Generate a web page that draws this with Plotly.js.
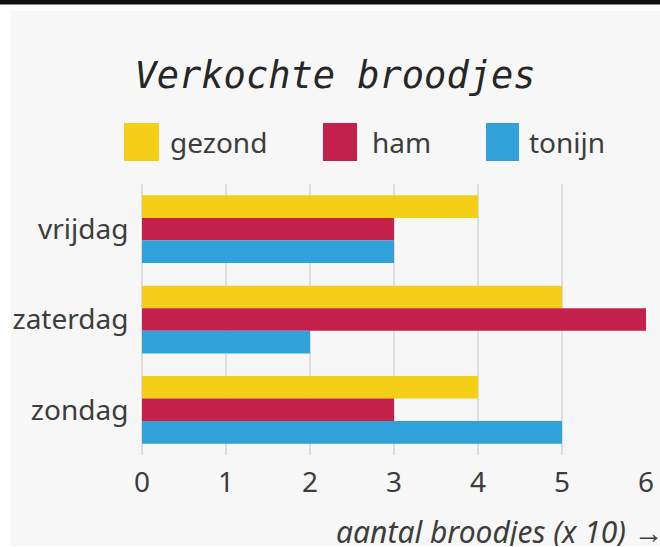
<!DOCTYPE html>
<html>
<head>
<meta charset="utf-8">
<script src="https://cdn.plot.ly/plotly-3.0.1.min.js"></script>
<style>
  html, body { margin: 0; padding: 0; background: #ffffff; width: 660px; height: 547px; overflow: hidden; }
  #topbar { position: absolute; left: 0; top: 0; width: 660px; height: 4px; background: #111; border-bottom: 1px solid #888; }
  #chart { position: absolute; left: 11px; top: 11px; width: 649px; height: 535px; }
</style>
</head>
<body>
<div id="topbar"></div>
<div id="chart"></div>
<script>
// ---- data ----
const days = ['vrijdag', 'zaterdag', 'zondag'];
const seriesNames = ['gezond', 'ham', 'tonijn'];
const gezond = [4, 5, 4];
const ham = [3, 6, 3];
const tonijn = [3, 2, 5];
const xTicks = [0, 1, 2, 3, 4, 5, 6];
const chartTitle = 'Verkochte broodjes';
const xTitle = 'aantal broodjes (x 10) →';

// ---- style ----
const colors = ['#f5cf17', '#c4204c', '#31a2d9'];
const textColor = '#3d3d3d';
const labelFont = 'Noto Sans, sans-serif';
const W = 649, H = 535;
const M = { l: 131, r: 14, t: 173, b: 91 };
const pw = W - M.l - M.r, ph = H - M.t - M.b;
const px2x = p => (p - M.l) / pw;
const py2y = p => 1 - (p - M.t) / ph;

const values = [gezond, ham, tonijn];
const traces = seriesNames.map((name, i) => ({
  type: 'bar',
  orientation: 'h',
  name: name,
  y: days,
  x: values[i],
  marker: { color: colors[i], line: { width: 0 } },
  hoverinfo: 'x+name'
}));

// manual legend (large square swatches)
const legendSquares = [[113, 148], [312, 346], [475, 508]];
const legendTextX = [157, 359, 516];
const shapes = [];
const annotations = [];
seriesNames.forEach((name, i) => {
  shapes.push({
    type: 'rect', xref: 'paper', yref: 'paper',
    x0: px2x(legendSquares[i][0]), x1: px2x(legendSquares[i][1]),
    y0: py2y(150), y1: py2y(112),
    fillcolor: colors[i], line: { width: 0 }
  });
  annotations.push({
    xref: 'paper', yref: 'paper',
    x: px2x(legendTextX[i]), y: py2y(131),
    xanchor: 'left', yanchor: 'middle', showarrow: false,
    text: name, font: { family: labelFont, size: 28, color: textColor }
  });
});
annotations.push({
  xref: 'paper', yref: 'paper',
  x: px2x(323), y: py2y(520),
  xanchor: 'left', yanchor: 'middle', showarrow: false,
  text: '<i>' + xTitle + '</i>',
  font: { family: labelFont, size: 30, color: textColor }
});

const layout = {
  width: W, height: H,
  paper_bgcolor: '#f7f7f7',
  plot_bgcolor: '#f7f7f7',
  margin: M,
  showlegend: false,
  barmode: 'group',
  bargap: 0.25,
  bargroupgap: 0,
  title: {
    text: '<i>' + chartTitle + '</i>',
    font: { family: 'DejaVu Sans Mono, monospace', size: 37, color: '#262626' },
    xref: 'container', x: 324 / W, xanchor: 'center',
    yref: 'container', y: 1 - 64 / H, yanchor: 'middle'
  },
  xaxis: {
    range: [0, 6],
    tickvals: xTicks,
    ticktext: xTicks.map(String),
    showgrid: true, gridcolor: '#dddddd', gridwidth: 2,
    zeroline: true, zerolinecolor: '#dddddd', zerolinewidth: 2,
    showline: false,
    ticks: 'outside', ticklen: 2, tickcolor: 'rgba(0,0,0,0)',
    tickfont: { family: labelFont, size: 28, color: textColor },
    fixedrange: true
  },
  yaxis: {
    autorange: 'reversed',
    showgrid: false, zeroline: false, showline: false,
    ticks: 'outside', ticklen: 7, tickcolor: 'rgba(0,0,0,0)',
    tickfont: { family: labelFont, size: 28, color: textColor },
    fixedrange: true
  },
  shapes: shapes,
  annotations: annotations
};

Plotly.newPlot('chart', traces, layout, { displayModeBar: false, staticPlot: true });
</script>
</body>
</html>
